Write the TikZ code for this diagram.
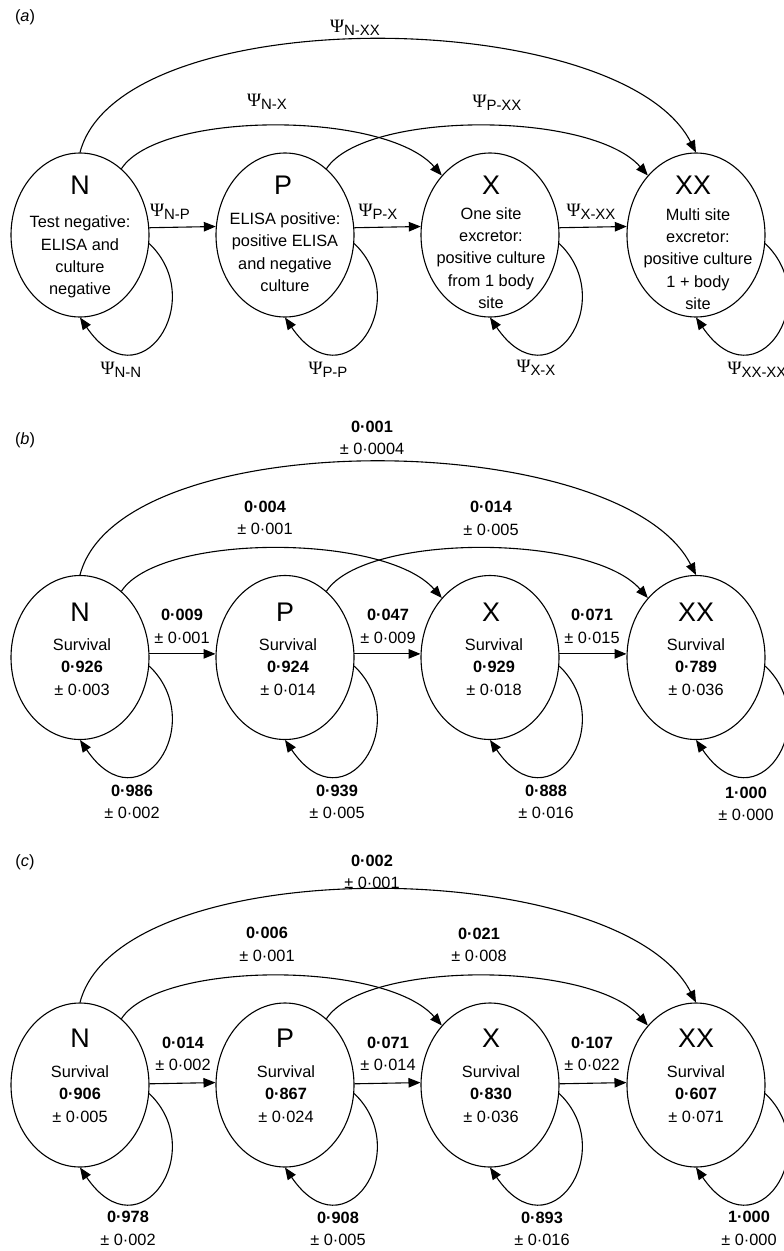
\documentclass[tikz,border=0pt]{standalone}
\usepackage{fontspec}
\setmainfont{Liberation Sans}
\newfontfamily\psifont{Liberation Serif}
\usetikzlibrary{arrows.meta,shapes.geometric}
\newcommand\Psl[1]{{\fontsize{19}{19}\selectfont\psifont Ψ}\raisebox{-2.5bp}{\fontsize{15}{15}\selectfont #1}}
\tikzset{
  st/.style={draw, ellipse, minimum width=138bp, minimum height=164bp, inner sep=0pt, line width=1.1bp},
  arr/.style={-{Triangle[length=12bp,width=9.5bp]}, line width=1.1bp},
  txt/.style={font=\fontsize{16.4}{22.5}\selectfont, align=center, inner sep=0pt},
  big/.style={font=\fontsize{27}{27}\selectfont, inner sep=0pt},
  psl/.style={inner sep=0pt},
  panlab/.style={font=\fontsize{16.4}{20}\selectfont, inner sep=0pt}
}
% #1 suffix, #2 vertical shift, #3/#4 anchors for the straight arrows
\newcommand\panelshapes[4]{%
  \node[st] (N#1)  at (80,235+#2)  {};
  \node[st] (P#1)  at (285,235+#2) {};
  \node[st] (X#1)  at (490,235+#2) {};
  \node[st] (XX#1) at (696,235+#2) {};
  \draw[arr] (N#1.#3) -- (P#1.#4);
  \draw[arr] (P#1.#3) -- (X#1.#4);
  \draw[arr] (X#1.#3) -- (XX#1.#4);
  \draw[arr] (N#1.north) .. controls +(40,-153) and +(-76,-148) .. (XX#1.north);
  \draw[arr] (N#1.58) .. controls +(38,-58) and +(-57,-65) .. (X#1.129);
  \draw[arr] (P#1.58) .. controls +(38,-58) and +(-57,-65) .. (XX#1.129);
  \draw[arr] (N#1.-7) .. controls +(60,57) and +(60,88) .. (N#1.south);
  \draw[arr] (P#1.-7) .. controls +(60,57) and +(60,88) .. (P#1.south);
  \draw[arr] (X#1.-7) .. controls +(60,57) and +(60,88) .. (X#1.south);
  \draw[arr] (XX#1.-7) .. controls +(60,57) and +(60,88) .. (XX#1.south);
}
\begin{document}
\begin{tikzpicture}[x=1bp,y=-1bp]
\useasboundingbox (0,0) rectangle (784,1251);
\fill[white] (0,0) rectangle (784,1251);
\clip (0,0) rectangle (784,1251);

% ---------------- panel (a)
\node[panlab] (la) at (25,17) {(\textit{a})};
\panelshapes{a}{0}{6.6}{173.4}
\node[big] (Lna) at (80,185) {N};
\node[big] (Lpa) at (283,185) {P};
\node[big] (Lxa) at (491,185) {X};
\node[big] (Lxxa) at (693,185) {XX};
\node[txt] (TaN) at (80,257) {Test negative:\\ELISA and\\culture\\negative};
\node[txt] (TaP) at (285,252) {ELISA positive:\\positive ELISA\\and negative\\culture};
\node[txt] (TaX) at (491,258) {One site\\excretor:\\positive culture\\from 1 body\\site};
\node[txt] (TaXX) at (698,259) {Multi site\\excretor:\\positive culture\\1 + body\\site};
\node[psl] (LaNXX) at (355,28) {\Psl{N-XX}};
\node[psl] (LaNX) at (267,102) {\Psl{N-X}};
\node[psl] (LaPXX) at (497,103) {\Psl{P-XX}};
\node[psl] (LaNP) at (170,212) {\Psl{N-P}};
\node[psl] (LaPX) at (378,212) {\Psl{P-X}};
\node[psl] (LaXXX) at (591,212) {\Psl{X-XX}};
\node[psl] (LaNN) at (121,370) {\Psl{N-N}};
\node[psl] (LaPP) at (328,370) {\Psl{P-P}};
\node[psl] (LaXX2) at (536,368) {\Psl{X-X}};
\node[psl] (LaXXXX) at (757,370) {\Psl{XX-XX}};

% ---------------- panel (b)
\node[panlab] (lb) at (25,440) {(\textit{b})};
\panelshapes{b}{422.5}{3}{177}
\node[big] (Lnb) at (80,612) {N};
\node[big] (Lpb) at (285,612) {P};
\node[big] (Lxb) at (491,612) {X};
\node[big] (Lxxb) at (696,612) {XX};
\node[txt] (TbN) at (82,667) {Survival\\\textbf{0·926}\\± 0·003};
\node[txt] (TbP) at (288,667) {Survival\\\textbf{0·924}\\± 0·014};
\node[txt] (TbX) at (494,667) {Survival\\\textbf{0·929}\\± 0·018};
\node[txt] (TbXX) at (696,667) {Survival\\\textbf{0·789}\\± 0·036};
\node[txt] (TbNP) at (182,626.5) {\textbf{0·009}\\± 0·001};
\node[txt] (TbPX) at (388,626.5) {\textbf{0·047}\\± 0·009};
\node[txt] (TbXXX) at (592,626.5) {\textbf{0·071}\\± 0·015};
\node[txt] (TbNX) at (265,518) {\textbf{0·004}\\± 0·001};
\node[txt] (TbPXX) at (491,518.5) {\textbf{0·014}\\± 0·005};
\node[txt] (TbNXX) at (372,438) {\textbf{0·001}\\± 0·0004};
\node[txt] (TbNN) at (132,802) {\textbf{0·986}\\± 0·002};
\node[txt] (TbPP) at (337,802) {\textbf{0·939}\\± 0·005};
\node[txt] (TbXX2) at (546,802) {\textbf{0·888}\\± 0·016};
\node[txt] (TbXXXX) at (746,804) {\textbf{1·000}\\± 0·000};

% ---------------- panel (c)
\node[panlab] (lc) at (25,862) {(\textit{c})};
\panelshapes{c}{850}{1.7}{178.3}
\node[big] (Lnc) at (80,1038) {N};
\node[big] (Lpc) at (285,1038) {P};
\node[big] (Lxc) at (491,1038) {X};
\node[big] (Lxxc) at (696,1038) {XX};
\node[txt] (TcN) at (80,1094) {Survival\\\textbf{0·906}\\± 0·005};
\node[txt] (TcP) at (286,1094) {Survival\\\textbf{0·867}\\± 0·024};
\node[txt] (TcX) at (491,1094) {Survival\\\textbf{0·830}\\± 0·036};
\node[txt] (TcXX) at (696,1094) {Survival\\\textbf{0·607}\\± 0·071};
\node[txt] (TcNP) at (183,1054) {\textbf{0·014}\\± 0·002};
\node[txt] (TcPX) at (388,1054) {\textbf{0·071}\\± 0·014};
\node[txt] (TcXXX) at (592,1054) {\textbf{0·107}\\± 0·022};
\node[txt] (TcNX) at (267,944.5) {\textbf{0·006}\\± 0·001};
\node[txt] (TcPXX) at (479,945) {\textbf{0·021}\\± 0·008};
\node[txt] (TcNXX) at (372,872) {\textbf{0·002}\\± 0·001};
\node[txt] (TcNN) at (128,1228.5) {\textbf{0·978}\\± 0·002};
\node[txt] (TcPP) at (338,1229) {\textbf{0·908}\\± 0·005};
\node[txt] (TcXX2) at (542,1229) {\textbf{0·893}\\± 0·016};
\node[txt] (TcXXXX) at (749,1228.5) {\textbf{1·000}\\± 0·000};
\end{tikzpicture}
\end{document}
